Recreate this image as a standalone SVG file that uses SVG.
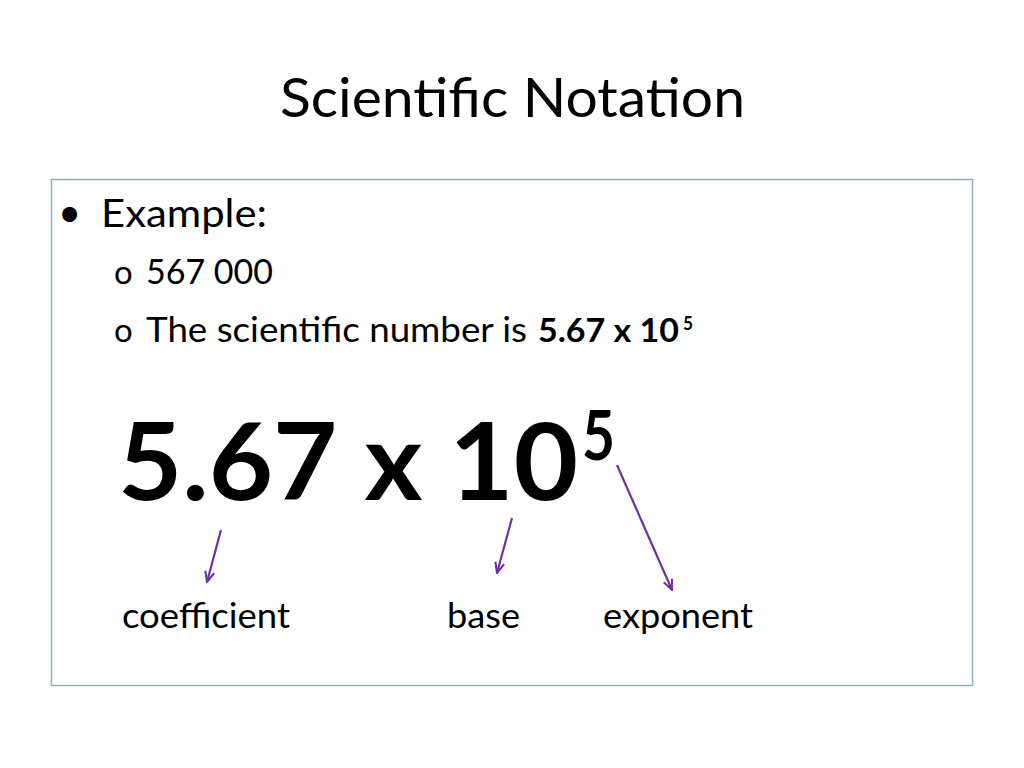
<svg xmlns="http://www.w3.org/2000/svg" width="1024" height="768" viewBox="0 0 1024 768">
<style>
text{font-family:Lato,"Noto Sans","Liberation Sans",sans-serif;fill:#000}
.b{font-weight:bold}
.ar{stroke:#7030a0;stroke-width:2.2;fill:none}
</style>
<defs>
<marker id="ah" viewBox="0 0 10 10" refX="9" refY="5" markerWidth="13" markerHeight="13" orient="auto" markerUnits="userSpaceOnUse">
<path d="M1,1.5 L9,5 L1,8.5" fill="none" stroke="#7030a0" stroke-width="1.6"/>
</marker>
</defs>
<rect width="1024" height="768" fill="#fff"/>
<g id="title"><text x="280" y="117" font-size="55" textLength="465" lengthAdjust="spacingAndGlyphs">Scientific Notation</text></g>
<g id="box"><rect x="51.5" y="179.5" width="921" height="506" fill="none" stroke="#8db3b8" stroke-width="1.5"/></g>
<g id="bullets">
<text x="58" y="227" font-size="40">•</text>
<text x="101" y="227" font-size="39" textLength="166" lengthAdjust="spacingAndGlyphs">Example:</text>
<text x="114" y="284" font-size="33">o</text>
<text x="146" y="284" font-size="35" textLength="127" lengthAdjust="spacingAndGlyphs">567 000</text>
<text x="114" y="342" font-size="33">o</text>
<text x="146" y="342" font-size="35" textLength="381" lengthAdjust="spacingAndGlyphs">The scientific number is</text>
<text x="538" y="342" font-size="33" class="b" textLength="141" lengthAdjust="spacingAndGlyphs">5.67 x 10</text>
<text x="683" y="330" font-size="19" class="b" textLength="10" lengthAdjust="spacingAndGlyphs">5</text>
</g>
<g id="formula">
<text x="118" y="500" font-size="107" class="b" textLength="460" lengthAdjust="spacingAndGlyphs">5.67 x 10</text>
<text x="582" y="460" font-size="68" class="b" textLength="33" lengthAdjust="spacingAndGlyphs">5</text>
</g>
<g id="coefficient"><text x="122" y="628" font-size="35" textLength="168" lengthAdjust="spacingAndGlyphs">coefficient</text></g>
<g id="base"><text x="447" y="628" font-size="35" textLength="73" lengthAdjust="spacingAndGlyphs">base</text></g>
<g id="exponent"><text x="603" y="628" font-size="35" textLength="150" lengthAdjust="spacingAndGlyphs">exponent</text></g>
<g id="connectors">
<line class="ar" x1="221" y1="530" x2="207" y2="582" marker-end="url(#ah)"/>
<line class="ar" x1="512" y1="518" x2="497" y2="573" marker-end="url(#ah)"/>
<line class="ar" x1="617" y1="465" x2="672" y2="590" marker-end="url(#ah)"/>
</g>
</svg>
